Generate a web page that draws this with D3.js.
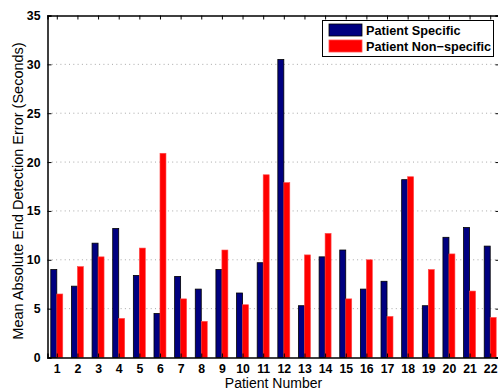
<!DOCTYPE html>
<html>
<head>
<meta charset="utf-8">
<script src="https://cdn.jsdelivr.net/npm/d3@7"></script>
<style>
  body { margin: 0; background: #fff; }
  svg { display: block; font-family: "Liberation Sans", Arial, sans-serif; }
</style>
</head>
<body>
<svg id="chart"></svg>
<script>
const patients = d3.range(1, 23);
const specific = [9.0, 7.3, 11.7, 13.2, 8.4, 4.5, 8.3, 7.0, 9.0, 6.6, 9.7, 30.5, 5.3, 10.3, 11.0, 7.0, 7.8, 18.2, 5.3, 12.3, 13.3, 11.4];
const nonSpecific = [6.5, 9.3, 10.3, 4.0, 11.2, 20.9, 6.0, 3.7, 11.0, 5.4, 18.7, 17.9, 10.5, 12.7, 6.0, 10.0, 4.2, 18.5, 9.0, 10.6, 6.8, 4.1];
const yTicks = [0, 5, 10, 15, 20, 25, 30, 35];
const seriesNames = ["Patient Specific", "Patient Non\u2212specific"];
const colors = ["#000080", "#ff0000"];

const width = 498;
const height = 391;
const plotLeft = 47.5, plotRight = 499.5, plotTop = 15.5, plotBottom = 357.5;

let svg = d3.select("#chart")
  .attr("width", width)
  .attr("height", height);

let x = d3.scaleLinear().domain([0.55, 22.45]).range([plotLeft, plotRight]);
let y = d3.scaleLinear().domain([0, 35]).range([plotBottom, plotTop]);
let barW = 0.29;

// grid
svg.append("g")
  .selectAll("line")
  .data(yTicks.filter(d => d > 0 && d < 35))
  .enter()
  .append("line")
  .attr("x1", plotLeft).attr("x2", plotRight)
  .attr("y1", d => y(d)).attr("y2", d => y(d))
  .attr("stroke", "#a8a8a8")
  .attr("stroke-width", 1)
  .attr("stroke-dasharray", "1,3.3");

// bars
let data = patients.map((p, i) => ({p: p, a: specific[i], b: nonSpecific[i]}));
svg.append("g").selectAll("rect")
  .data(data).enter().append("rect")
  .attr("x", d => x(d.p - barW))
  .attr("y", d => y(d.a))
  .attr("width", d => x(d.p) - x(d.p - barW))
  .attr("height", d => y(0) - y(d.a))
  .attr("fill", colors[0])
  .attr("stroke", "#000")
  .attr("stroke-width", 0.8);

svg.append("g").selectAll("rect")
  .data(data).enter().append("rect")
  .attr("x", d => x(d.p))
  .attr("y", d => y(d.b))
  .attr("width", d => x(d.p + barW) - x(d.p))
  .attr("height", d => y(0) - y(d.b))
  .attr("fill", colors[1])
  .attr("stroke", "#ff4a4a")
  .attr("stroke-width", 0.6);

// axes with inward ticks
let axisBottom = d3.axisBottom(x).tickValues(patients).tickSize(-4).tickPadding(7).tickFormat(d3.format("d"));
let axisTop = d3.axisTop(x).tickValues(patients).tickSize(-4).tickFormat("");
let axisLeft = d3.axisLeft(y).tickValues(yTicks).tickSize(-4).tickPadding(7);
let axisRight = d3.axisRight(y).tickValues(yTicks).tickSize(-4).tickFormat("");

function style(g) {
  g.select(".domain").attr("stroke", "#000").attr("stroke-width", 1.5);
  g.selectAll(".tick line").attr("stroke", "#000").attr("stroke-width", 1);
  g.selectAll(".tick text")
    .attr("fill", "#000")
    .style("font-size", "12.3px")
    .style("font-weight", "bold")
    .style("font-family", "'Liberation Sans', Arial, sans-serif");
}

svg.append("g").attr("transform", `translate(0,${plotBottom})`).call(axisBottom).call(style);
svg.append("g").attr("transform", `translate(0,${plotTop})`).call(axisTop).call(style);
svg.append("g").attr("transform", `translate(${plotLeft},0)`).call(axisLeft).call(style);
svg.append("g").attr("transform", `translate(${plotRight},0)`).call(axisRight).call(style);

// labels
svg.append("text")
  .attr("x", (plotLeft + plotRight) / 2)
  .attr("y", 388)
  .attr("text-anchor", "middle")
  .style("font-size", "14px")
  .text("Patient Number");

svg.append("text")
  .attr("transform", "translate(23,191) rotate(-90)")
  .attr("text-anchor", "middle")
  .style("font-size", "14.5px")
  .text("Mean Absolute End Detection Error (Seconds)");

// legend
let legend = svg.append("g").attr("transform", "translate(322.5,20.5)");
legend.append("rect")
  .attr("width", 171).attr("height", 36)
  .attr("fill", "#fff").attr("stroke", "#000").attr("stroke-width", 1);
seriesNames.forEach((name, i) => {
  legend.append("rect")
    .attr("x", 6.5).attr("y", 3.5 + i * 16)
    .attr("width", 33).attr("height", 12)
    .attr("fill", colors[i])
    .attr("stroke", i == 0 ? "#000" : "#ff4a4a")
    .attr("stroke-width", 0.8);
  legend.append("text")
    .attr("x", 43.5).attr("y", 14 + i * 16)
    .style("font-size", "12.7px")
    .style("font-weight", "bold")
    .text(name);
});
</script>
</body>
</html>
